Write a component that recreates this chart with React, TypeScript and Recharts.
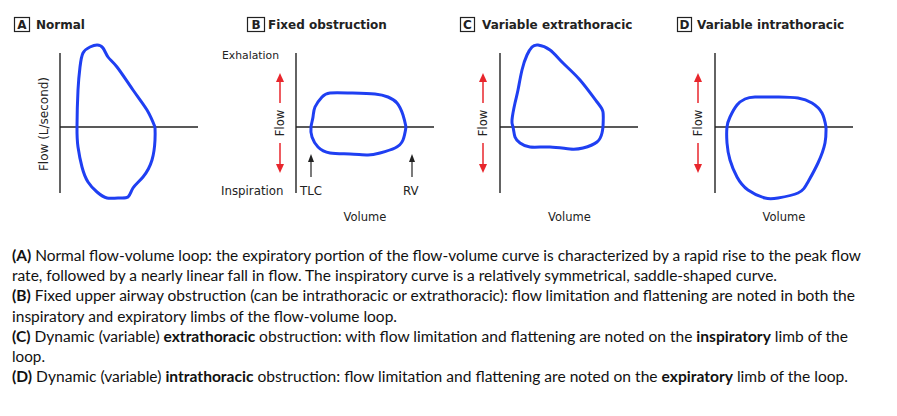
import React from 'react'
import { LineChart, Line, XAxis, YAxis, ReferenceLine, Customized } from 'recharts'

// each loop is traced from RV (right crossing), up over the expiratory limb,
// back down through TLC and round the inspiratory limb
const normalVolume = [4.75, 4.35, 3.65, 2.85, 2.4, 2.15, 1.85, 1.5, 1.15, 1.0, 0.9, 0.85, 0.9, 1.1, 1.4, 1.85, 2.35, 2.9, 3.4, 3.65, 4.15, 4.6, 4.75, 4.75]
const normalFlow = [0, 0.85, 1.85, 3.0, 3.5, 3.95, 4.1, 4.0, 3.7, 3.0, 1.85, 0, -1.0, -2.0, -2.75, -3.25, -3.55, -3.55, -3.5, -3.05, -2.5, -1.65, -0.65, 0]

const fixedVolume = [5.5, 5.35, 5.05, 4.6, 3.95, 2.7, 1.7, 1.3, 0.95, 0.85, 0.75, 0.8, 1.1, 1.7, 2.7, 3.6, 4.2, 4.95, 5.35, 5.5]
const fixedFlow = [0, 0.6, 1.2, 1.5, 1.65, 1.7, 1.7, 1.5, 1.0, 0.5, 0, -0.5, -1.0, -1.3, -1.35, -1.4, -1.3, -1.05, -0.65, 0]

const extraVolume = [5.15, 5.15, 4.85, 4.0, 3.15, 2.5, 1.9, 1.6, 1.35, 1.1, 0.9, 0.75, 0.6, 0.65, 0.75, 1.0, 1.5, 2.5, 3.5, 4.15, 4.85, 5.1, 5.15]
const extraFlow = [0, 0.75, 1.25, 2.35, 3.2, 3.85, 4.1, 4.0, 3.6, 2.85, 1.85, 1.2, 0.35, 0, -0.5, -0.8, -1.0, -1.0, -1.1, -1.05, -0.75, -0.3, 0]

const intraVolume = [5.55, 5.35, 4.85, 4.15, 3.15, 2.0, 1.5, 1.1, 0.75, 0.6, 0.6, 0.75, 1.1, 1.65, 2.5, 3.15, 4.15, 4.65, 5.15, 5.5, 5.55]
const intraFlow = [0, 0.7, 1.2, 1.45, 1.5, 1.5, 1.4, 1.1, 0.5, 0, -0.8, -1.65, -2.5, -3.15, -3.55, -3.55, -3.3, -2.75, -1.8, -0.8, 0]

const panelLetters = ['A', 'B', 'C', 'D']
const panelTitles = ['Normal', 'Fixed obstruction', 'Variable extrathoracic', 'Variable intrathoracic']

const captionLines: [string, boolean][][] = [
  [['(A)', true], [' Normal flow-volume loop: the expiratory portion of the flow-volume curve is characterized by a rapid rise to the peak flow', false]],
  [['rate, followed by a nearly linear fall in flow. The inspiratory curve is a relatively symmetrical, saddle-shaped curve.', false]],
  [['(B)', true], [' Fixed upper airway obstruction (can be intrathoracic or extrathoracic): flow limitation and flattening are noted in both the', false]],
  [['inspiratory and expiratory limbs of the flow-volume loop.', false]],
  [['(C)', true], [' Dynamic (variable) ', false], ['extrathoracic', true], [' obstruction: with flow limitation and flattening are noted on the ', false], ['inspiratory', true], [' limb of the', false]],
  [['loop.', false]],
  [['(D)', true], [' Dynamic (variable) ', false], ['intrathoracic', true], [' obstruction: flow limitation and flattening are noted on the ', false], ['expiratory', true], [' limb of the loop.', false]],
]
const captionEnds = [861, 777, 855, 397, 848, 45, 848]

const BLUE = '#1f3ff2'
const RED = '#e8262c'
const INK = '#222'
const LABEL_FONT = '"DejaVu Sans", Verdana, sans-serif'

const toLoop = (volume: number[], flow: number[]) =>
  volume.map((v, i) => ({ volume: v, flow: flow[i] }))

const Title = ({ boxX, boxW, textX, letter, title }: any) => (
  <g fontFamily={LABEL_FONT} fill={INK}>
    <rect x={boxX} y={17.5} width={boxW} height={14} fill="none" stroke={INK} strokeWidth={1.2} />
    <text x={boxX + boxW / 2} y={29} textAnchor="middle" fontSize={12} fontWeight="bold">{letter}</text>
    <text x={textX} y={29} fontSize={12} fontWeight="bold">{title}</text>
  </g>
)

const FlowArrow = ({ x }: { x: number }) => (
  <g>
    <line x1={x} y1={80} x2={x} y2={103} stroke={RED} strokeWidth={1.5} />
    <path d={`M${x} 73 L${x - 4} 82 L${x + 4} 82 Z`} fill={RED} />
    <text x={x} y={123} transform={`rotate(-90 ${x} 123)`} textAnchor="middle" dominantBaseline="central"
      fontFamily={LABEL_FONT} fontSize={11.5} fill={INK}>Flow</text>
    <line x1={x} y1={143} x2={x} y2={166} stroke={RED} strokeWidth={1.5} />
    <path d={`M${x} 173 L${x - 4} 164 L${x + 4} 164 Z`} fill={RED} />
  </g>
)

const UpArrow = ({ x }: { x: number }) => (
  <g>
    <line x1={x} y1={160} x2={x} y2={177} stroke={INK} strokeWidth={1.2} />
    <path d={`M${x} 154 L${x - 3} 162 L${x + 3} 162 Z`} fill={INK} />
  </g>
)

const VolumeLabel = ({ x }: { x: number }) => (
  <text x={x} y={221} textAnchor="middle" fontFamily={LABEL_FONT} fontSize={11.5} fill={INK}>Volume</text>
)

const NotesA = () => (
  <g>
    <Title boxX={14.5} boxW={15} textX={36} letter={panelLetters[0]} title={panelTitles[0]} />
    <text x={44} y={124} transform="rotate(-90 44 124)" textAnchor="middle" dominantBaseline="central"
      fontFamily={LABEL_FONT} fontSize={12} fill={INK}>Flow (L/second)</text>
  </g>
)

const NotesB = () => (
  <g>
    <Title boxX={32.5} boxW={17} textX={53} letter={panelLetters[1]} title={panelTitles[1]} />
    <g fontFamily={LABEL_FONT} fill={INK}>
      <text x={7} y={59} fontSize={10.8}>Exhalation</text>
      <text x={6} y={195} fontSize={11.8}>Inspiration</text>
      <text x={85} y={195} fontSize={11.8}>TLC</text>
      <text x={188} y={195} fontSize={11.8}>RV</text>
    </g>
    <FlowArrow x={65} />
    <UpArrow x={96} />
    <UpArrow x={197} />
    <VolumeLabel x={150} />
  </g>
)

const NotesC = () => (
  <g>
    <Title boxX={20.5} boxW={14} textX={42} letter={panelLetters[2]} title={panelTitles[2]} />
    <FlowArrow x={43} />
    <VolumeLabel x={129.5} />
  </g>
)

const NotesD = () => (
  <g>
    <Title boxX={12.5} boxW={14} textX={32} letter={panelLetters[3]} title={panelTitles[3]} />
    <FlowArrow x={33} />
    <VolumeLabel x={119} />
  </g>
)

const PLOT_W = 138

const LoopPanel = ({ data, left, axisLeft, Notes }: any) => (
  <div style={{ position: 'absolute', left, top: 0 }}>
    <LineChart
      width={225}
      height={230}
      data={data}
      margin={{ top: 37, right: 225 - axisLeft - PLOT_W, bottom: 23, left: axisLeft }}
    >
      <XAxis type="number" dataKey="volume" domain={[0, 6.9]} hide />
      <YAxis type="number" domain={[-4, 4.5]} hide />
      <ReferenceLine segment={[{ x: 0, y: -3.3 }, { x: 0, y: 3.7 }]} stroke={INK} strokeWidth={1.4} />
      <ReferenceLine segment={[{ x: 0, y: 0 }, { x: 6.9, y: 0 }]} stroke={INK} strokeWidth={1.4} />
      <Line
        dataKey="flow"
        type="natural"
        stroke={BLUE}
        strokeWidth={3}
        dot={false}
        activeDot={false}
        isAnimationActive={false}
      />
      <Customized component={Notes} />
    </LineChart>
  </div>
)

export default function App() {
  return (
    <div style={{ position: 'absolute', left: 0, top: 0, width: 897, height: 416, background: '#fff', overflow: 'hidden' }}>
      <LoopPanel data={toLoop(normalVolume, normalFlow)} left={0} axisLeft={60} Notes={NotesA} />
      <LoopPanel data={toLoop(fixedVolume, fixedFlow)} left={215} axisLeft={81} Notes={NotesB} />
      <LoopPanel data={toLoop(extraVolume, extraFlow)} left={440} axisLeft={60} Notes={NotesC} />
      <LoopPanel data={toLoop(intraVolume, intraFlow)} left={665} axisLeft={50} Notes={NotesD} />
      <svg width={897} height={186} style={{ position: 'absolute', left: 0, top: 230 }}>
        {captionLines.map((parts, i) => (
          <text
            key={i}
            x={12}
            y={31 + i * 20.2}
            fontFamily="Lato, 'Open Sans', sans-serif"
            fontSize={14.5}
            fill="#111"
            textLength={captionEnds[i] - 12}
            lengthAdjust="spacingAndGlyphs"
          >
            {parts.map(([s, bold], j) => (
              <tspan key={j} fontWeight={bold ? 'bold' : 'normal'}>{s}</tspan>
            ))}
          </text>
        ))}
      </svg>
    </div>
  )
}
